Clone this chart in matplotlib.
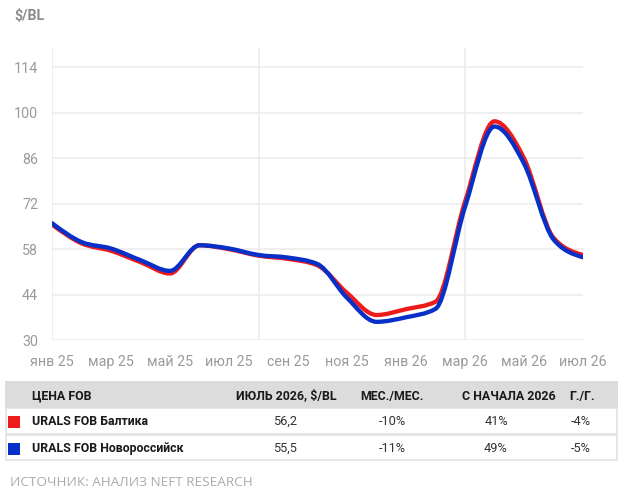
import numpy as np
import matplotlib
matplotlib.use("Agg")
import matplotlib.pyplot as plt
from matplotlib.path import Path
from matplotlib.patches import PathPatch, Rectangle

plt.rcParams["font.family"] = ["Roboto", "DejaVu Sans"]

months = ["янв 25", "фев 25", "мар 25", "апр 25", "май 25", "июн 25", "июл 25",
          "авг 25", "сен 25", "окт 25", "ноя 25", "дек 25", "янв 26", "фев 26",
          "мар 26", "апр 26", "май 26", "июн 26", "июл 26"]
baltika = [65.6, 59.8, 57.5, 54.0, 50.5, 59.2, 58.0, 56.0, 55.0, 53.0,
           44.5, 37.7, 39.5, 41.8, 72.6, 97.4, 86.0, 61.5, 56.2]
novoros = [66.0, 60.2, 58.2, 54.6, 51.3, 59.2, 58.2, 56.2, 55.4, 53.4,
           43.0, 35.6, 37.0, 39.6, 71.0, 95.8, 84.4, 61.0, 55.5]

yticks = [30, 44, 58, 72, 86, 100, 114]

table_header = ["ЦЕНА FOB", "ИЮЛЬ 2026, $/BL", "МЕС./МЕС.", "С НАЧАЛА 2026", "Г./Г."]
table_names = ["URALS FOB Балтика", "URALS FOB Новороссийск"]
table_price = ["56,2", "55,5"]
table_mom = ["-10%", "-11%"]
table_ytd = ["41%", "49%"]
table_yoy = ["-4%", "-5%"]

RED = "#ee1b1b"
BLUE = "#0730c8"


def smooth_path(x, y):
    # monotone cubic (like d3 curveMonotoneX) as bezier segments
    x = np.asarray(x, float)
    y = np.asarray(y, float)
    h = np.diff(x)
    s = np.diff(y) / h
    t = np.zeros_like(y)
    for i in range(1, len(y) - 1):
        s0, s1 = s[i - 1], s[i]
        p = (s0 * h[i] + s1 * h[i - 1]) / (h[i - 1] + h[i])
        t[i] = (np.sign(s0) + np.sign(s1)) * min(abs(s0), abs(s1), 0.5 * abs(p))
    t[0] = (3 * s[0] - t[1]) / 2
    t[-1] = (3 * s[-1] - t[-2]) / 2
    verts = [(x[0], y[0])]
    codes = [Path.MOVETO]
    for i in range(len(x) - 1):
        dx = h[i] / 3
        verts += [(x[i] + dx, y[i] + t[i] * dx),
                  (x[i + 1] - dx, y[i + 1] - t[i + 1] * dx),
                  (x[i + 1], y[i + 1])]
        codes += [Path.CURVE4] * 3
    return Path(verts, codes)


fig = plt.figure(figsize=(6.24, 4.94), dpi=100, facecolor="white")
ax = fig.add_axes([52 / 624, 1 - 340 / 494, (583 - 52) / 624, (340 - 48) / 494])

xs = np.arange(len(months))
ax.set_xlim(0, len(months) - 1)
ax.set_ylim(30, 120)

for v in yticks:
    ax.axhline(v, color="#ececec", lw=1.2, zorder=0)
for xv in [0, 7, 14]:
    ax.axvline(xv, color="#ececec", lw=1.2, zorder=0)

for vals, col in [(baltika, RED), (novoros, BLUE)]:
    ax.add_patch(PathPatch(smooth_path(xs, vals), facecolor="none", edgecolor=col,
                           lw=3.1, capstyle="round", joinstyle="round", zorder=3))

ax.set_yticks(yticks)
ax.set_yticklabels([str(v) for v in yticks])
ax.set_xticks(xs[::2])
ax.set_xticklabels(months[::2])
ax.tick_params(axis="both", length=0, colors="#9a9a9a", labelsize=10.3)
ax.tick_params(axis="y", pad=10)
ax.tick_params(axis="x", pad=10.5)
for sp in ax.spines.values():
    sp.set_visible(False)

# overlay in pixel coordinates for the title and table
ov = fig.add_axes([0, 0, 1, 1], zorder=-1)
ov.set_xlim(0, 624)
ov.set_ylim(494, 0)
ov.axis("off")

ov.text(14, 16, "$/BL", fontsize=10.3, fontweight="bold", color="#8c8c8c",
        va="center", ha="left")

ov.add_patch(Rectangle((5, 381), 613, 80, facecolor="#e6e6e6", edgecolor="none"))
ov.add_patch(Rectangle((5, 381), 613, 27, facecolor="#dcdcdc", edgecolor="none"))
ov.add_patch(Rectangle((7, 409), 609, 24, facecolor="white", edgecolor="none"))
ov.add_patch(Rectangle((7, 436), 609, 23, facecolor="white", edgecolor="none"))

hdr_x = [32, 286, 392, 509, 582]
for i, (lbl, xv) in enumerate(zip(table_header, hdr_x)):
    ov.text(xv, 396, lbl, fontsize=8.9, fontweight="bold", color="#1a1a1a",
            ha="left" if i == 0 else "center", va="center")

row_y = [421.5, 448.5]
cols = [RED, BLUE]
val_x = [285, 392, 496, 581]
for r in range(2):
    y = row_y[r]
    ov.add_patch(Rectangle((8, y - 5.5), 12, 12, facecolor=cols[r], edgecolor="none"))
    ov.text(32, y, table_names[r], fontsize=8.9, fontweight="bold", color="#1a1a1a",
            ha="left", va="center")
    for xv, v in zip(val_x, [table_price[r], table_mom[r], table_ytd[r], table_yoy[r]]):
        ov.text(xv, y, v, fontsize=9.2, color="#333333", ha="center", va="center")

ov.text(10, 482, "ИСТОЧНИК: АНАЛИЗ NEFT RESEARCH", fontsize=9.7, color="#ababab",
        family=["Open Sans", "DejaVu Sans"], ha="left", va="center")

fig.savefig("out.png", dpi=100, facecolor="white")
